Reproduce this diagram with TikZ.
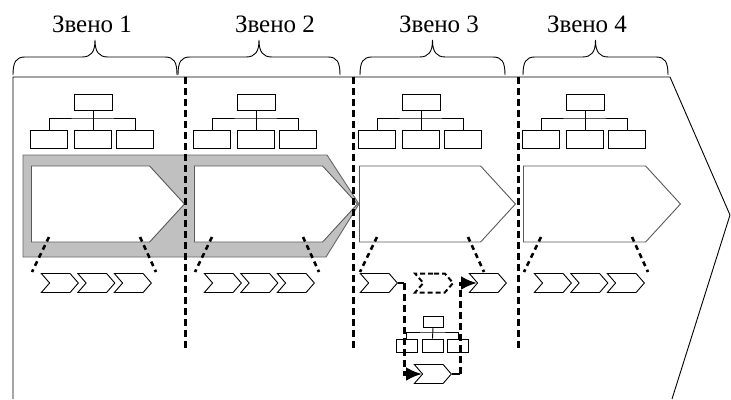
\documentclass[tikz,border=0pt]{standalone}
\usepackage{fontspec}
\setmainfont{Liberation Serif}
\usetikzlibrary{shapes.symbols,arrows.meta}
\newcommand\orgchart[2]{%
  \node[orgtop] (#1t) at (#2,102) {};
  \node[orgbot] (#1a) at ({#2-44},139) {};
  \node[orgbot] (#1b) at (#2,139) {};
  \node[orgbot] (#1c) at ({#2+42},139) {};
  \coordinate (#1h) at (#2,118);
  \draw[thinline] (#1t.south) -- (#1b.north);
  \draw[thinline] (#1a.north) |- (#1h) -| (#1c.north);
}
\newcommand\mybrace[2]{%
  \draw[thinline] (#1,75) .. controls (#1,62) and ({#1+3},57) .. ({#1+12},57)
    -- ({(#1+#2)/2-13},57) .. controls ({(#1+#2)/2-4},57) and ({(#1+#2)/2},52) .. ({(#1+#2)/2},40)
    .. controls ({(#1+#2)/2},52) and ({(#1+#2)/2+4},57) .. ({(#1+#2)/2+13},57)
    -- ({#2-12},57) .. controls ({#2-3},57) and (#2,62) .. (#2,75);
}
\newcommand\slants[1]{%
  \draw[slantdash] ({#1+18},237) -- ({#1+1},272);
  \draw[slantdash] ({#1+109},237) -- ({#1+125},272);
}
\begin{document}
\begin{tikzpicture}[x=1pt,y=-1pt,
  thinline/.style={line width=0.9pt, draw=black},
  orgtop/.style={draw, line width=0.9pt, minimum width=38pt, minimum height=16pt, inner sep=0pt},
  orgbot/.style={draw, line width=0.9pt, minimum width=37pt, minimum height=18pt, inner sep=0pt},
  orgtiny/.style={draw, line width=0.9pt, minimum width=21pt, minimum height=12pt, inner sep=0pt},
  pent/.style={shape=signal, signal to=east, signal pointer angle=95, draw=black!65, fill=white, line width=0.9pt, inner sep=0pt, minimum height=76pt, anchor=west},
  chev/.style={shape=signal, signal from=west, signal to=east, signal pointer angle=98, draw=black, fill=white, line width=0.9pt, inner sep=0pt, minimum width=37pt, minimum height=19pt, anchor=west},
  vdash/.style={line width=3pt, dash pattern=on 7pt off 4pt},
  slantdash/.style={line width=2.6pt, dash pattern=on 5pt off 4pt},
  conn/.style={line width=3pt, dash pattern=on 7pt off 4pt, -{Latex[length=16pt,width=14pt]}},
  lbl/.style={font=\fontsize{25}{29}\selectfont, inner sep=0pt}
]
\useasboundingbox (0,0) rectangle (731,399);
% labels
\node[lbl] (z1) at (92,24) {Звено 1};
\node[lbl] (z2) at (275,24) {Звено 2};
\node[lbl] (z3) at (439,24) {Звено 3};
\node[lbl] (z4) at (587,24) {Звено 4};
% braces
\mybrace{13}{177}
\mybrace{178}{340}
\mybrace{360}{505}
\mybrace{523}{668}
% outline
\draw[thinline] (13,399) -- (13,77) -- (670,77) -- (730,215) -- (672,399);
% org charts
\orgchart{o1}{93}
\orgchart{o2}{256}
\orgchart{o3}{421}
\orgchart{o4}{585}
% gray band
\draw[fill={rgb,255:red,192;green,192;blue,192}, draw=black!60, line width=0.9pt]
  (23,155) -- (327,155) -- (359,204) -- (326,257) -- (23,257) -- cycle;
% pentagons
\node[pent, minimum width=153pt] (p1) at (31,204) {};
\node[pent, minimum width=163pt] (p2) at (194,204) {};
\node[pent, minimum width=156pt] (p3) at (359,204) {};
\node[pent, minimum width=157pt] (p4) at (523,204) {};
% slanted dashes
\slants{31}
\slants{194}
\slants{359}
\slants{523}
% chevron chains (west anchor = notch point)
\node[chev] (c11) at (49,283) {};
\node[chev] (c12) at (85.5,283) {};
\node[chev] (c13) at (122,283) {};
\node[chev] (c21) at (212,283) {};
\node[chev] (c22) at (248.5,283) {};
\node[chev] (c23) at (285,283) {};
\node[chev] (c41) at (542,283) {};
\node[chev] (c42) at (578.5,283) {};
\node[chev] (c43) at (615,283) {};
\node[chev] (c31) at (368,283) {};
\node[chev, line width=2pt, dash pattern=on 5pt off 3pt, minimum width=38pt] (c32) at (422,283) {};
\node[chev] (c33) at (477,283) {};
\node[chev] (c3b) at (422,374) {};
% small org chart
\node[orgtiny, minimum width=20pt, minimum height=11pt] (st) at (433,321.5) {};
\node[orgtiny, minimum height=13pt] (sa) at (406.5,345.5) {};
\node[orgtiny, minimum height=13pt] (sb) at (432.5,345.5) {};
\node[orgtiny, minimum height=13pt] (sc) at (458,345.5) {};
\coordinate (sh) at (433,332);
\draw[thinline] (st.south) -- (sb.north);
\draw[thinline] (sa.north) |- (sh) -| (sc.north);
% dashed verticals
\draw[vdash] (185,77) -- (185,349);
\draw[vdash] (353,77) -- (353,349);
\draw[vdash] (518,77) -- (518,349);
% connectors
\coordinate (k1) at (404,283);
\coordinate (k2) at (460,374);
\draw[thinline, line width=1.4pt] (c31.east) -- (k1);
\draw[conn] (k1) |- (c3b.west);
\draw[thinline, line width=1.4pt] (c3b.east) -- (k2);
\draw[conn] (k2) |- (c33.west);
\end{tikzpicture}
\end{document}
